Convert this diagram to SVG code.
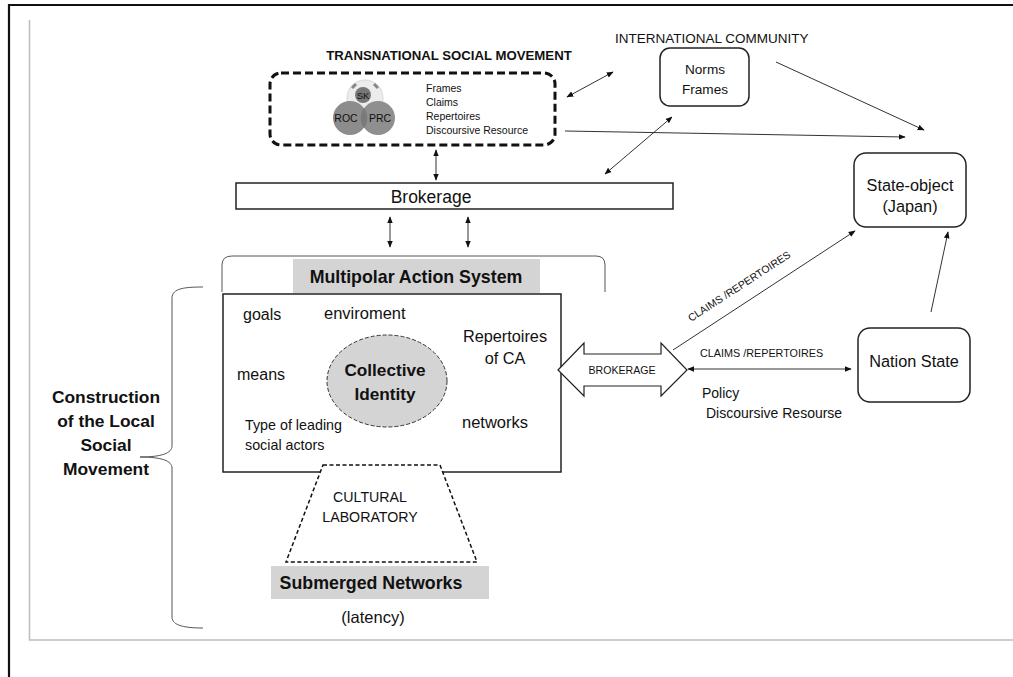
<svg xmlns="http://www.w3.org/2000/svg" width="1013" height="677" viewBox="0 0 1013 677">
<defs>
<marker id="ah" viewBox="0 0 10 10" refX="9" refY="5" markerWidth="7" markerHeight="7" markerUnits="userSpaceOnUse" orient="auto-start-reverse">
<path d="M0,1 L10,5 L0,9 Z" fill="#111"/>
</marker>
<style>
text{font-family:"Liberation Sans",Arial,sans-serif;fill:#111}
.b{font-weight:bold}
.c{text-anchor:middle}
.con line{stroke:#333;stroke-width:1;fill:none}
.box{fill:#fff;stroke:#222;stroke-width:1.5}
.gray{fill:#d4d4d4}
</style>
</defs>
<rect x="0" y="0" width="1013" height="677" fill="#fff"/>
<g id="frame">
<path d="M9,677 L9,5 L1013,5" fill="none" stroke="#111" stroke-width="2.2"/>
<path d="M29.5,20 L29.5,640 L1013,640" fill="none" stroke="#bdbdbd" stroke-width="1.5"/>
</g>

<g id="connectors" class="con">
<line x1="567" y1="97" x2="613" y2="72" marker-start="url(#ah)" marker-end="url(#ah)"/>
<line x1="776" y1="62" x2="924" y2="130" marker-end="url(#ah)"/>
<line x1="565" y1="131" x2="905" y2="137" marker-end="url(#ah)"/>
<line x1="672" y1="117" x2="605" y2="174" marker-start="url(#ah)" marker-end="url(#ah)"/>
<line x1="436" y1="150" x2="436" y2="180" marker-start="url(#ah)" marker-end="url(#ah)"/>
<line x1="390" y1="217" x2="390" y2="247" marker-start="url(#ah)" marker-end="url(#ah)"/>
<line x1="468" y1="217" x2="468" y2="247" marker-start="url(#ah)" marker-end="url(#ah)"/>
<line x1="673" y1="350" x2="855" y2="231" marker-end="url(#ah)"/>
<line x1="688" y1="369" x2="851" y2="369" marker-start="url(#ah)" marker-end="url(#ah)"/>
<line x1="931" y1="312" x2="948" y2="232" marker-end="url(#ah)"/>
<text x="691" y="322" font-size="10.5" transform="rotate(-33 691 322)">CLAIMS /REPERTOIRES</text>
<text x="700" y="357" font-size="10.8">CLAIMS /REPERTOIRES</text>
<text x="702" y="398" font-size="14">Policy</text>
<text x="706" y="418" font-size="14">Discoursive Resourse</text>
</g>

<g id="tsm">
<text class="b c" x="449" y="60" font-size="13.2">TRANSNATIONAL SOCIAL  MOVEMENT</text>
<rect x="270" y="73" width="285" height="72" rx="11" fill="none" stroke="#111" stroke-width="3" stroke-dasharray="8,4"/>
<circle cx="365" cy="98" r="18" fill="#ececec" stroke="#d8d8d8" stroke-width="1"/>
<path d="M352,88 L356,84 M374,84 L378,88" stroke="#888" stroke-width="3"/>
<circle cx="350" cy="118" r="17" fill="#8c8c8c"/>
<circle cx="378" cy="118" r="17" fill="#8f8f8f"/>
<path d="M364,108 A17,17 0 0 1 364,128 A17,17 0 0 1 364,108 Z" fill="#7a7a7a"/>
<circle cx="363" cy="95" r="8" fill="#777"/>
<text class="c" x="363" y="99" font-size="9.5">SK</text>
<text class="c" x="346" y="122" font-size="10.5">ROC</text>
<text class="c" x="380" y="122" font-size="10.5">PRC</text>
<text x="426" y="92" font-size="10.5">Frames</text>
<text x="426" y="106" font-size="10.5">Claims</text>
<text x="426" y="120" font-size="10.5">Repertoires</text>
<text x="426" y="134" font-size="10.5">Discoursive Resource</text>
</g>

<g id="intl">
<text x="615" y="43" font-size="13.5">INTERNATIONAL COMMUNITY</text>
<rect class="box" x="660" y="48" width="89" height="58" rx="10"/>
<text class="c" x="705" y="74" font-size="13.6">Norms</text>
<text class="c" x="705" y="94" font-size="13.6">Frames</text>
</g>

<g id="state-object">
<rect class="box" x="854" y="153" width="112" height="74" rx="12"/>
<text class="c" x="910" y="191" font-size="16.3">State-object</text>
<text class="c" x="910" y="212" font-size="16.3">(Japan)</text>
</g>

<g id="nation-state">
<rect class="box" x="858" y="328" width="112" height="74" rx="12"/>
<text class="c" x="914" y="367" font-size="16.3">Nation State</text>
</g>

<g id="brokerage">
<rect class="box" x="236" y="183" width="437" height="26"/>
<text class="c" x="431" y="203" font-size="17.5">Brokerage</text>
</g>

<g id="multipolar">
<path d="M222,292 L222,265 Q222,256 232,256 L596,256 Q605,256 605,265 L605,292" fill="none" stroke="#555" stroke-width="1"/>
<rect class="gray" x="293" y="259" width="247" height="34"/>
<text class="b c" x="416" y="283" font-size="17.8">Multipolar Action System</text>
<rect class="box" x="223" y="294" width="338" height="178"/>
<text x="243" y="320" font-size="16">goals</text>
<text x="324" y="319" font-size="16.5">enviroment</text>
<text class="c" x="505" y="342" font-size="16.3">Repertoires</text>
<text class="c" x="505" y="364" font-size="16.3">of CA</text>
<text x="237" y="380" font-size="16">means</text>
<ellipse cx="387" cy="381" rx="60" ry="46" fill="#d4d4d4" stroke="#333" stroke-width="1" stroke-dasharray="4,2"/>
<text class="b c" x="385" y="376" font-size="17.2">Collective</text>
<text class="b c" x="385" y="400" font-size="17.2">Identity</text>
<text x="245" y="430" font-size="14.3">Type of leading</text>
<text x="245" y="450" font-size="14.3">social actors</text>
<text x="462" y="428" font-size="16.5">networks</text>
</g>

<g id="brokerage-arrow">
<path d="M558,370 L584,343 L584,354 L661,354 L661,343 L687,370 L661,396 L661,386 L584,386 L584,396 Z" fill="#fff" stroke="#222" stroke-width="1.2"/>
<text class="c" x="622" y="374" font-size="10.6">BROKERAGE</text>
</g>

<g id="cultural-lab">
<path d="M323,465 L440,465 L477,562 L286,562 Z" fill="#fff" stroke="#111" stroke-width="1.5" stroke-dasharray="4,2.5"/>
<text class="c" x="370" y="502" font-size="14.2">CULTURAL</text>
<text class="c" x="370" y="522" font-size="14.2">LABORATORY</text>
</g>

<g id="submerged">
<rect class="gray" x="271" y="566" width="218" height="33"/>
<text class="b c" x="371" y="589" font-size="17.8">Submerged Networks</text>
<text class="c" x="373" y="623" font-size="16.5">(latency)</text>
</g>

<g id="local-movement">
<path d="M203,287 C186,287 172,288 172,298 L172,446 C172,453 162,457 140,457 C162,457 172,461 172,468 L172,617 C172,626 186,628 203,628" fill="none" stroke="#555" stroke-width="1"/>
<text class="b c" x="106" y="403" font-size="17.4">Construction</text>
<text class="b c" x="106" y="427" font-size="17.4">of the Local</text>
<text class="b c" x="106" y="451" font-size="17.4">Social</text>
<text class="b c" x="106" y="475" font-size="17.4">Movement</text>
</g>
</svg>
